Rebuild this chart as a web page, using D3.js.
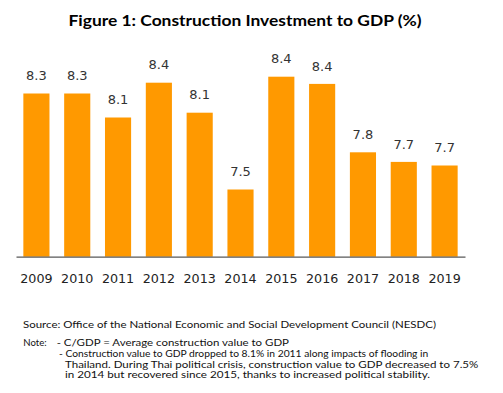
<!DOCTYPE html>
<html>
<head>
<meta charset="utf-8">
<script src="https://cdn.jsdelivr.net/npm/d3@7"></script>
<style>
  body { margin: 0; background: #fff; }
  svg { display: block; }
</style>
</head>
<body>
<svg id="chart"></svg>
<script>
// data
const years = ['2009', '2010', '2011', '2012', '2013', '2014', '2015', '2016', '2017', '2018', '2019'];
const values = [8.30, 8.30, 8.10, 8.39, 8.14, 7.50, 8.44, 8.38, 7.81, 7.73, 7.70];

const title = 'Figure 1: Construction Investment to GDP (%)';
const sourceText = 'Source: Office of the National Economic and Social Development Council (NESDC)';
const noteLabel = 'Note:';
const noteLines = [
  '- C/GDP = Average construction value to GDP',
  '- Construction value to GDP dropped to 8.1% in 2011 along impacts of flooding in',
  'Thailand. During Thai political crisis, construction value to GDP decreased to 7.5%',
  'in 2014 but recovered since 2015, thanks to increased political stability.'
];

const width = 503, height = 393;

const svg = d3.select('#chart')
    .attr('width', width)
    .attr('height', height);

const xScale = d3.scaleBand()
    .domain(years)
    .range([16, 465])
    .paddingInner(0.36)
    .paddingOuter(0.18);

const yScale = d3.scaleLinear()
    .domain([6.94, 8.6])
    .range([256.7, 57.5]);

// title
svg.append('text')
    .attr('x', 245)
    .attr('y', 25.5)
    .attr('text-anchor', 'middle')
    .attr('font-family', 'Lato, "Open Sans", sans-serif')
    .attr('font-weight', 'bold')
    .attr('font-size', 15.5)
    .attr('textLength', 353)
    .attr('lengthAdjust', 'spacingAndGlyphs')
    .attr('fill', '#000')
    .text(title);

// bars
svg.selectAll('.bar')
    .data(values)
    .enter()
  .append('rect')
    .attr('class', 'bar')
    .attr('x', (d, i) => xScale(years[i]))
    .attr('y', d => yScale(d))
    .attr('width', xScale.bandwidth())
    .attr('height', d => yScale.range()[0] - yScale(d))
    .attr('fill', '#ff9900');

// value labels
const fmt = d3.format('.1f');
svg.selectAll('.val')
    .data(values)
    .enter()
  .append('text')
    .attr('class', 'val')
    .attr('x', (d, i) => xScale(years[i]) + xScale.bandwidth() / 2)
    .attr('y', d => yScale(d) - 13.3)
    .attr('text-anchor', 'middle')
    .attr('font-family', '"DejaVu Sans", sans-serif')
    .attr('font-size', 13)
    .attr('fill', '#333')
    .text(d => fmt(d));

// x axis
const xAxis = d3.axisBottom(xScale).tickSize(0).tickPadding(17);
const xAxisG = svg.append('g')
    .attr('class', 'axis x-axis')
    .attr('transform', `translate(0,${yScale.range()[0]})`)
    .call(xAxis);

xAxisG.select('.domain')
    .attr('stroke', '#595959')
    .attr('stroke-width', 1.3);
xAxisG.selectAll('.tick text')
    .attr('font-family', '"DejaVu Sans", sans-serif')
    .attr('font-size', 12.7)
    .attr('fill', '#222');

// footnote
const foot = svg.append('g')
    .attr('font-family', 'Lato, "Open Sans", sans-serif')
    .attr('font-size', 9.6)
    .attr('fill', '#111');

foot.append('text')
    .attr('x', 23)
    .attr('y', 327.5)
    .attr('textLength', 413)
    .attr('lengthAdjust', 'spacingAndGlyphs')
    .text(sourceText);

foot.append('text')
    .attr('x', 23.3)
    .attr('y', 346)
    .attr('textLength', 23.4)
    .attr('lengthAdjust', 'spacingAndGlyphs')
    .text(noteLabel);

const noteX = [56.7, 59, 65, 65];
const noteEnd = [289, 428.3, 478.3, 430];
const noteY = [346, 356.7, 367.5, 377.5];
noteLines.forEach((t, i) => {
  foot.append('text')
      .attr('x', noteX[i])
      .attr('y', noteY[i])
      .attr('textLength', noteEnd[i] - noteX[i])
      .attr('lengthAdjust', 'spacingAndGlyphs')
      .text(t);
});
</script>
</body>
</html>
